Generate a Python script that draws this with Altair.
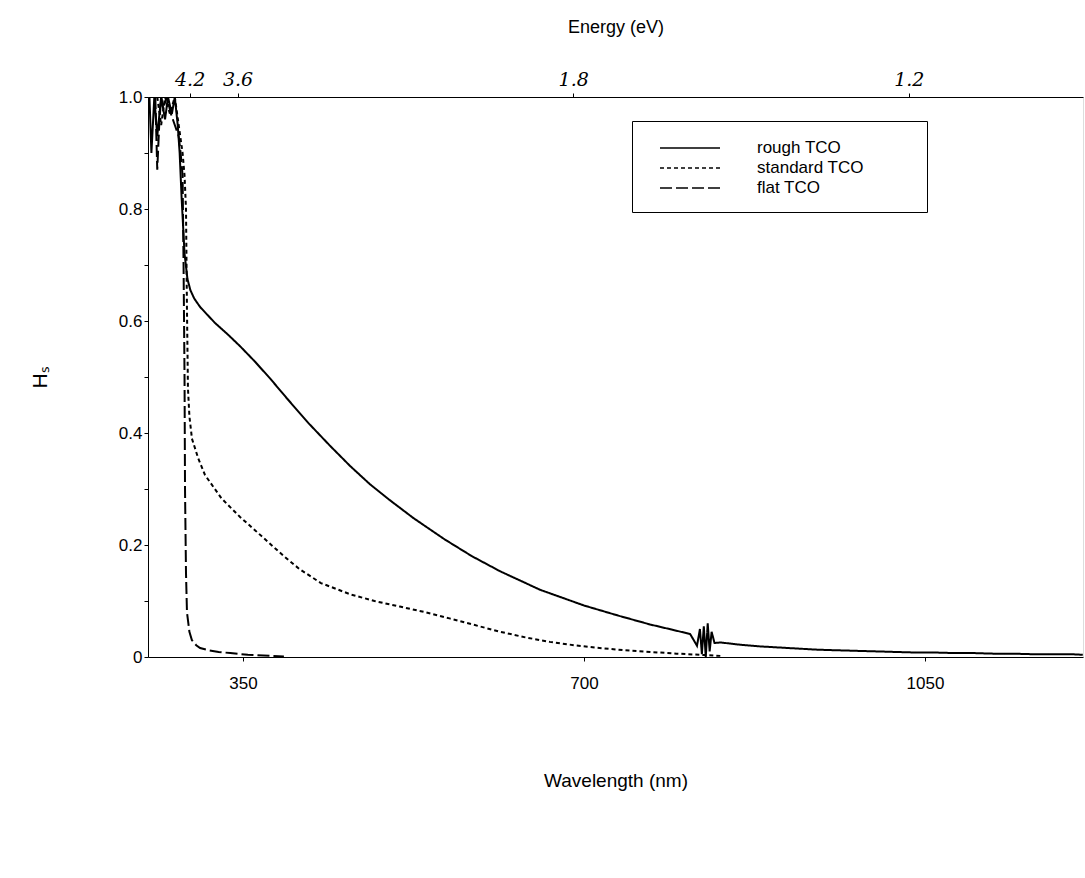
import altair as alt
import pandas as pd

# ---- data ----
rough_wl = [254, 256, 259, 262, 266, 270, 273, 277, 280, 283, 285, 287, 290, 293, 296, 300, 306,
            314, 321, 335, 347, 362, 378, 395, 417, 440, 460, 480, 500, 525, 557, 585, 614,
            655, 700, 735, 768, 790, 809, 816, 819, 821, 823, 825, 827, 829, 831, 834, 840,
            860, 880, 900, 920, 940, 960, 980, 1000, 1020, 1040, 1060, 1080, 1100, 1120, 1140,
            1160, 1180, 1200, 1212]
rough_h = [1.0, 0.9, 1.0, 0.93, 1.0, 0.96, 1.0, 0.97, 1.0, 0.95, 0.9, 0.82, 0.72, 0.675, 0.655,
           0.64, 0.625, 0.61, 0.597, 0.575, 0.555, 0.528, 0.497, 0.462, 0.418, 0.376, 0.341,
           0.309, 0.281, 0.248, 0.21, 0.18, 0.153, 0.12, 0.092, 0.074, 0.058, 0.049, 0.041,
           0.02, 0.05, 0.005, 0.055, 0.0, 0.06, 0.01, 0.045, 0.025, 0.026, 0.022, 0.019, 0.017,
           0.015, 0.013, 0.012, 0.011, 0.01, 0.009, 0.008, 0.008, 0.007, 0.007, 0.006, 0.006,
           0.005, 0.005, 0.005, 0.004]

std_wl = [262, 266, 270, 275, 280, 284, 288, 290, 291.5, 292.5, 293.5, 295, 297.6, 304, 311,
          328, 347, 360, 376, 392, 408, 430, 460, 485, 511, 537, 562, 588, 614, 640, 665, 690,
          716, 742, 768, 795, 819, 840]
std_h = [1.0, 0.95, 1.0, 0.97, 1.0, 0.95, 0.9, 0.86, 0.8, 0.62, 0.48, 0.43, 0.39, 0.355, 0.325,
         0.283, 0.25, 0.23, 0.205, 0.18, 0.157, 0.132, 0.112, 0.1, 0.09, 0.08, 0.069, 0.057,
         0.045, 0.035, 0.027, 0.021, 0.016, 0.012, 0.009, 0.006, 0.004, 0.002]

flat_wl = [260, 262, 264, 266, 268, 272, 276, 280, 284, 286, 288, 289, 290, 290.5, 291.5, 292.5,
           295, 297.6, 302, 306, 315, 325, 337, 355, 378, 392]
flat_h = [1.0, 0.87, 0.95, 1.0, 0.98, 1.0, 0.97, 0.95, 0.93, 0.9, 0.86, 0.7, 0.5, 0.3, 0.15,
          0.08, 0.045, 0.03, 0.021, 0.016, 0.012, 0.009, 0.007, 0.004, 0.002, 0.001]

series_names = ["rough TCO", "standard TCO", "flat TCO"]
series_dash = [[1, 0], [4, 3], [12, 4]]
energy_ticks = [4.2, 3.6, 1.8, 1.2]
wl_ticks = [350, 700, 1050]
y_ticks = [0, 0.1, 0.2, 0.3, 0.4, 0.5, 0.6, 0.7, 0.8, 0.9, 1.0]

rows = []
for name, wl, h in zip(series_names, [rough_wl, std_wl, flat_wl], [rough_h, std_h, flat_h]):
    for a, b in zip(wl, h):
        rows.append({"series": name, "wl": a, "h": b})
df = pd.DataFrame(rows)

FONT = "Liberation Sans"
xscale = alt.Scale(domain=[252.5, 1212.2], nice=False, zero=False)
yscale = alt.Scale(domain=[0, 1], nice=False)

lines = alt.Chart(df).mark_line(strokeWidth=2, color="black", clip=True).encode(
    x=alt.X("wl:Q", scale=xscale,
            axis=alt.Axis(title="Wavelength (nm)", values=wl_ticks, orient="bottom",
                          format="d", grid=False, tickSize=4, labelPadding=14,
                          titlePadding=80, labelFontSize=17, titleFontSize=19,
                          labelFont=FONT, titleFont=FONT, titleFontWeight="normal",
                          domainColor="black", tickColor="black", labelColor="black",
                          titleColor="black")),
    y=alt.Y("h:Q", scale=yscale,
            axis=alt.Axis(title="Hₛ", values=y_ticks, grid=False, tickSize=4,
                          labelExpr="datum.value == 0 ? '0' : (round(datum.value * 10) % 2 == 1 ? '' : format(datum.value, '.1f'))",
                          labelFontSize=17, titleFontSize=21, labelFont=FONT, titleFont=FONT,
                          titleFontWeight="normal", titlePadding=68, domainColor="black",
                          tickColor="black", labelColor="black", titleColor="black")),
    strokeDash=alt.StrokeDash("series:N",
                              scale=alt.Scale(domain=series_names, range=series_dash),
                              legend=alt.Legend(title="MMMM", titleOrient="right",
                                                titleColor="transparent", titleFontSize=14,
                                                titlePadding=0,
                                                orient="none", legendX=484,
                                                legendY=24, strokeColor="black",
                                                fillColor="white", padding=16,
                                                symbolType="M-3,0H3", symbolSize=400,
                                                symbolStrokeWidth=1.5,
                                                symbolStrokeColor="black",
                                                symbolOffset=31, labelOffset=56,
                                                labelFontSize=17, labelFont=FONT,
                                                labelColor="black", rowPadding=1,
                                                labelLimit=400)),
    detail="series:N",
)

top_df = pd.DataFrame({"e": energy_ticks})
top = alt.Chart(top_df).transform_calculate(wl="1240 / datum.e").mark_point(opacity=0).encode(
    x=alt.X("wl:Q", scale=xscale,
            axis=alt.Axis(title="Energy (eV)", orient="top",
                          values=[1240 / e for e in energy_ticks],
                          labelExpr="format(1240 / datum.value, '.1f')",
                          grid=False, tickSize=4, labelPadding=4, titlePadding=34,
                          labelFontSize=19, labelFont="DejaVu Serif", labelFontStyle="italic",
                          titleFontSize=18, titleFont=FONT, titleFontWeight="normal",
                          domainColor="black", tickColor="black", labelColor="black",
                          titleColor="black")),
)

chart = alt.layer(lines, top).resolve_axis(x="independent").properties(
    width=935, height=560, autosize="none",
    padding={"left": 148, "top": 97, "right": 2, "bottom": 221},
).configure_view(stroke="black", strokeWidth=1.5).configure(background="white")

chart.save("out.html", embed_options={"renderer": "svg", "actions": False})
